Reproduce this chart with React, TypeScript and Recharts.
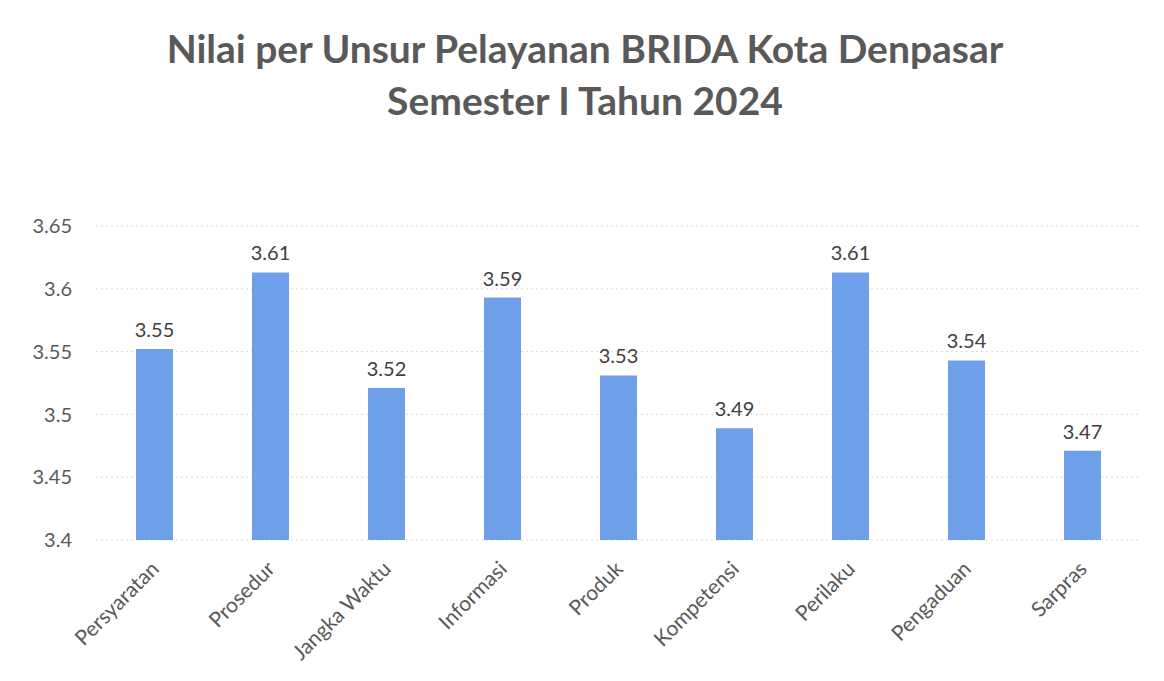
import React from 'react';
import { BarChart, Bar, XAxis, YAxis, CartesianGrid, LabelList } from 'recharts';

const categories = [
  'Persyaratan',
  'Prosedur',
  'Jangka Waktu',
  'Informasi',
  'Produk',
  'Kompetensi',
  'Perilaku',
  'Pengaduan',
  'Sarpras',
];
const nilai = [3.552, 3.613, 3.521, 3.593, 3.531, 3.489, 3.613, 3.543, 3.471];
const nilaiLabels = ['3.55', '3.61', '3.52', '3.59', '3.53', '3.49', '3.61', '3.54', '3.47'];
const yTicks = [3.4, 3.45, 3.5, 3.55, 3.6, 3.65];

const chartData = categories.map((name, i) => ({
  name,
  value: nilai[i],
  label: nilaiLabels[i],
}));

const FONT = 'Lato, "Open Sans", sans-serif';

const CategoryTick = (props: any) => {
  const { x, y, payload } = props;
  return (
    <g transform={`translate(${x + 1},${y + 17})`}>
      <text
        x={0}
        y={0}
        dy="0.35em"
        textAnchor="end"
        transform="rotate(-45)"
        fill="#595959"
        fontSize={21}
        fontFamily={FONT}
      >
        {payload.value}
      </text>
    </g>
  );
};

const App: React.FC = () => {
  return (
    <div
      style={{
        position: 'absolute',
        left: 0,
        top: 0,
        width: 1164,
        height: 681,
        background: '#ffffff',
        fontFamily: FONT,
      }}
    >
      <div
        style={{
          position: 'absolute',
          left: 0,
          top: 22,
          width: 1170,
          textAlign: 'center',
          color: '#595959',
          fontWeight: 700,
          fontSize: 39,
          lineHeight: '52px',
        }}
      >
        Nilai per Unsur Pelayanan BRIDA Kota Denpasar
        <br />
        Semester I Tahun 2024
      </div>
      <BarChart
        width={1164}
        height={681}
        data={chartData}
        margin={{ top: 226, right: 24, bottom: 0, left: 0 }}
        barCategoryGap="34%"
      >
        <CartesianGrid
          vertical={false}
          stroke="#d9d9d9"
          strokeDasharray="2 3"
        />
        <XAxis
          dataKey="name"
          height={141}
          axisLine={false}
          tickLine={false}
          interval={0}
          tick={<CategoryTick />}
        />
        <YAxis
          width={96}
          domain={[3.4, 3.65]}
          ticks={yTicks}
          allowDataOverflow
          axisLine={false}
          tickLine={false}
          tickSize={0}
          tickMargin={24}
          tick={{ fill: '#595959', fontSize: 20, fontFamily: FONT }}
          tickFormatter={(v: number) => String(v)}
        />
        <Bar dataKey="value" fill="#6ea0ea" barSize={37} isAnimationActive={false}>
          <LabelList
            dataKey="label"
            position="top"
            offset={12}
            fill="#404040"
            fontSize={20}
            fontFamily={FONT}
          />
        </Bar>
      </BarChart>
    </div>
  );
};

export default App;
